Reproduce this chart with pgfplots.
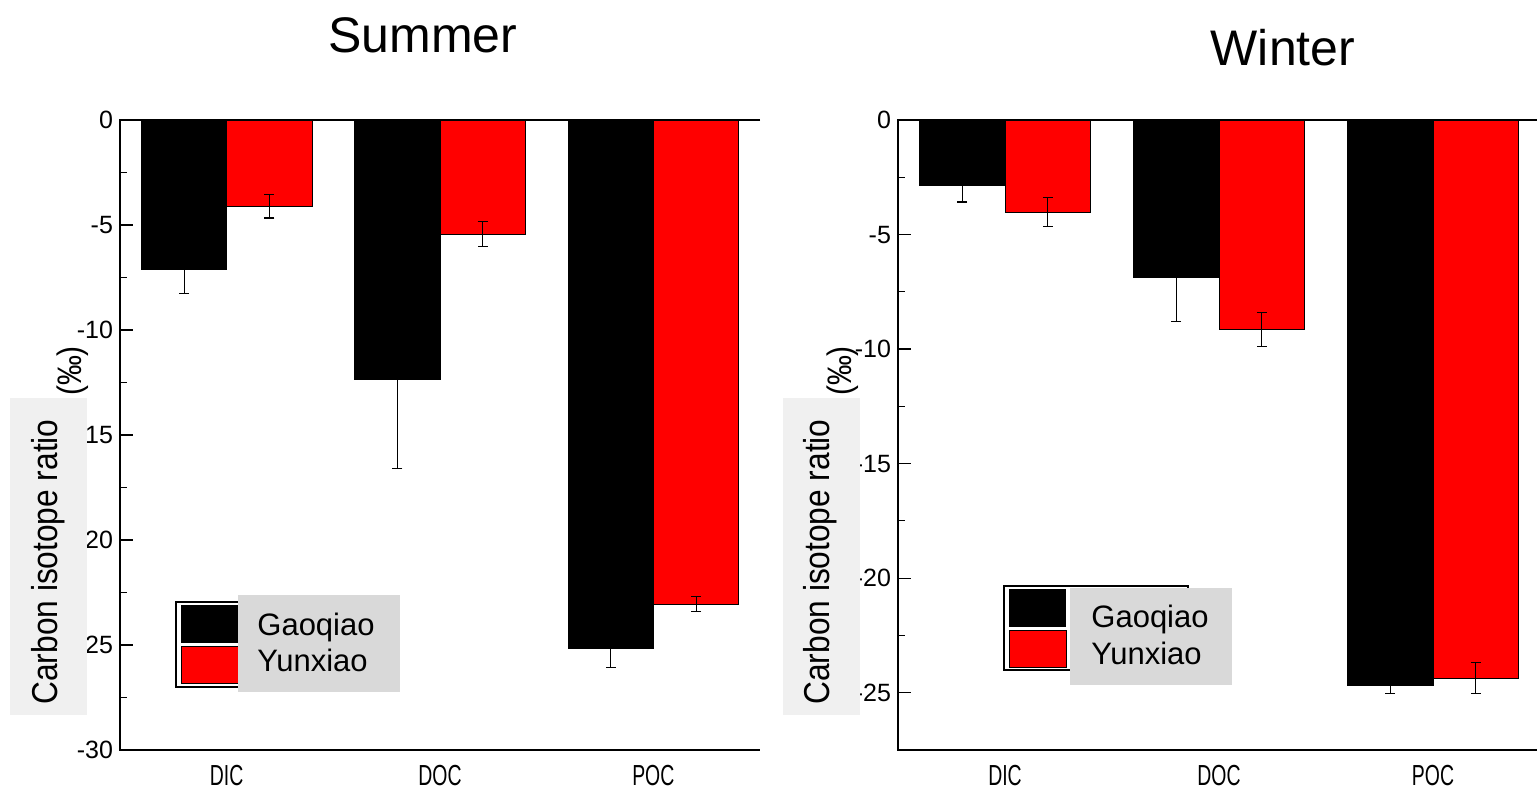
\documentclass[border=0pt]{standalone}
\usepackage{fontspec}
\setmainfont{Liberation Sans}
\newfontfamily\narrowfont[FakeStretch=0.67]{Liberation Sans}
\newfontfamily\labfont[FakeStretch=0.88]{Liberation Sans}
\usepackage{pgfplots}
\usepackage{pgfplotstable}
\pgfplotsset{compat=1.18}

\pgfplotstableread{
x g gerr y yerr
0 -7.14 1.14 -4.10 0.57
1 -12.38 4.20 -5.43 0.60
2 -25.19 0.90 -23.05 0.35
}\summer

\pgfplotstableread{
x g gerr y yerr
0 -2.84 0.74 -4.02 0.63
1 -6.86 1.92 -9.13 0.74
2 -24.67 0.35 -24.37 0.68
}\winter

\definecolor{legbox}{HTML}{D9D9D9}
\definecolor{labbox}{HTML}{F0F0F0}

\pgfplotsset{
  myaxis/.style={
    scale only axis, height=315pt,
    xmin=-0.5, xmax=2.5,
    axis line style={draw=none},
    xtick={0,1,2}, xticklabels={DIC,DOC,POC},
    xtick style={draw=none},
    xtick pos=bottom, ytick pos=left,
    tick align=inside,
    major tick length=6.5pt, minor tick length=3.5pt,
    minor y tick num=1,
    every tick/.style={black, line width=0.6pt},
    yticklabel style={font=\fontsize{12.5}{14}\selectfont, xshift=0pt},
    xticklabel style={font=\narrowfont\fontsize{14.5}{16}\selectfont, yshift=-4pt},
    clip=false,
  },
  bars/.style={ybar, bar width=0.4, bar shift=0pt, draw=black, line width=0.5pt,
    error bars/.cd, y dir=both, y explicit,
    error bar style={black, line width=0.5pt},
    error mark options={black, rotate=90, mark size=2.5pt, line width=0.6pt},
    /pgfplots/.cd},
}

\begin{document}
\begin{tikzpicture}
\useasboundingbox (0,0) rectangle (768.5pt,395.5pt);

\begin{axis}[myaxis, at={(60pt,20.5pt)}, anchor=south west, width=320pt,
  ymin=-30, ymax=0,
  ytick={-30,-25,-20,-15,-10,-5,0},
  yticklabels={-30,-25,-20,-15,-10,-5,0}]
\addplot[fill=black, bars] table[x expr=\thisrow{x}-0.2, y=g, y error=gerr]{\summer};
\addplot[fill=red, bars] table[x expr=\thisrow{x}+0.2, y=y, y error=yerr]{\summer};
\draw[line width=1pt] (rel axis cs:1,1) -- (rel axis cs:0,1) -- (rel axis cs:0,0) -- (rel axis cs:1,0);
\end{axis}

\begin{axis}[myaxis, at={(449pt,20.5pt)}, anchor=south west, width=321pt,
  ymin=-27.5, ymax=0,
  ytick={-25,-20,-15,-10,-5,0},
  yticklabels={-25,-20,-15,-10,-5,0}]
\addplot[fill=black, bars] table[x expr=\thisrow{x}-0.2, y=g, y error=gerr]{\winter};
\addplot[fill=red, bars] table[x expr=\thisrow{x}+0.2, y=y, y error=yerr]{\winter};
\draw[line width=1pt] (rel axis cs:1,1) -- (rel axis cs:0,1) -- (rel axis cs:0,0) -- (rel axis cs:1,0);
\end{axis}

\begin{scope}[x=0.5pt, y=-0.5pt, yshift=395.5pt]
  % titles
  \node[font=\fontsize{25}{30}\selectfont] at (423,35) {Summer};
  \node[font=\fontsize{25}{30}\selectfont] at (1283,48) {Winter};
  % y labels
  \fill[labbox] (10,398) rectangle (87,715);
  \node[rotate=90, font=\labfont\fontsize{18}{20}\selectfont] at (48,562) {Carbon isotope ratio};
  \node[rotate=90, font=\labfont\fontsize{17}{20}\selectfont] at (73,371) {(‰)};
  \fill[labbox] (783,398) rectangle (860,715);
  \node[rotate=90, font=\labfont\fontsize{18}{20}\selectfont] at (820,562) {Carbon isotope ratio};
  \node[rotate=90, font=\labfont\fontsize{17}{20}\selectfont] at (843,371) {(‰)};
  % left legend
  \draw[black, line width=0.6pt] (176,602) rectangle (240,687);
  \fill[black] (181,605) rectangle (238,643);
  \filldraw[fill=red, draw=black, line width=0.5pt] (181,647) rectangle (238,684);
  \fill[legbox] (238,595) rectangle (400,692);
  \node[anchor=base west, font=\fontsize{15.5}{18}\selectfont, inner sep=0] at (257,636) {Gaoqiao};
  \node[anchor=base west, font=\fontsize{15.5}{18}\selectfont, inner sep=0] at (257,672) {Yunxiao};
  % right legend
  \draw[black, line width=0.6pt] (1004,586) rectangle (1188,670);
  \fill[black] (1009,589) rectangle (1066,627);
  \filldraw[fill=red, draw=black, line width=0.5pt] (1009,631) rectangle (1066,668);
  \fill[legbox] (1070,588) rectangle (1232,685);
  \node[anchor=base west, font=\fontsize{15.5}{18}\selectfont, inner sep=0] at (1091,628) {Gaoqiao};
  \node[anchor=base west, font=\fontsize{15.5}{18}\selectfont, inner sep=0] at (1091,665) {Yunxiao};
\end{scope}
\end{tikzpicture}
\end{document}
